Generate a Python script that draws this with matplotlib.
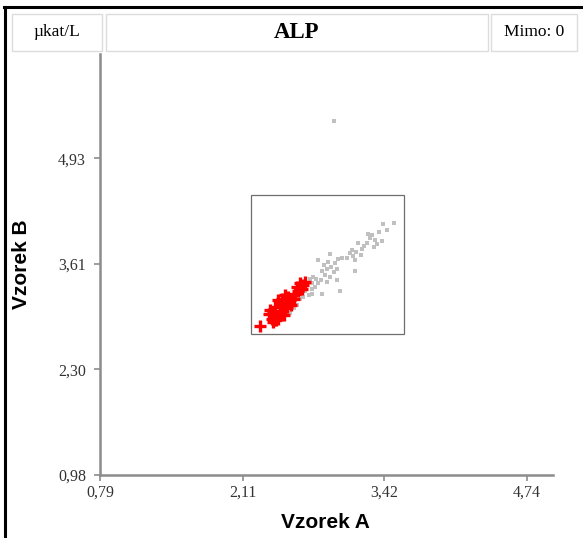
import matplotlib.pyplot as plt
from matplotlib.patches import Rectangle

# Axis ranges and ticks (values in µkat/L)
x_ticks = [0.79, 2.11, 3.42, 4.74]
x_tick_labels = ["0,79", "2,11", "3,42", "4,74"]
y_ticks = [0.98, 2.30, 3.61, 4.93]
y_tick_labels = ["0,98", "2,30", "3,61", "4,93"]
x_range = (0.79, 4.98)
y_range = (0.98, 6.23)

# Zoom window drawn in the middle
box_x = (2.19, 3.60)
box_y = (2.74, 4.47)

# Gray points (other labs)
gray_a = [3.51, 3.41, 3.37, 3.31, 3.33, 3.40, 3.29, 3.26, 3.32, 3.23, 3.18, 3.21,
          3.16, 3.12, 3.10, 3.13, 3.20, 3.15, 3.07, 3.03, 2.99, 2.96, 2.93, 2.90,
          2.92, 2.81, 2.84, 2.87, 2.83, 2.79, 2.76, 2.73, 2.75, 2.78, 2.81, 2.89,
          2.92, 2.98, 3.01, 2.84, 2.75, 2.72, 2.67, 2.64, 2.61, 2.58, 2.55, 2.41,
          2.98, 3.15, 2.89, 2.95, 2.86, 2.70, 2.75, 2.69, 3.35, 3.27, 3.44, 2.95]
gray_b = [4.12, 4.11, 4.01, 3.97, 3.91, 3.90, 3.93, 3.87, 3.82, 3.84, 3.87, 3.80,
          3.76, 3.78, 3.75, 3.71, 3.72, 3.66, 3.69, 3.68, 3.67, 3.62, 3.58, 3.64,
          3.74, 3.66, 3.53, 3.47, 3.41, 3.43, 3.45, 3.43, 3.37, 3.33, 3.37, 3.39,
          3.45, 3.41, 3.28, 3.24, 3.24, 3.22, 3.20, 3.18, 3.10, 3.06, 3.00, 2.85,
          3.55, 3.53, 3.55, 3.51, 3.60, 3.37, 3.30, 3.28, 3.86, 3.99, 4.03, 5.40]

# Red pluses (highlighted results)
red_a = [2.27, 2.35, 2.39, 2.41, 2.42, 2.39, 2.46, 2.47, 2.49, 2.46, 2.52, 2.55,
         2.58, 2.59, 2.62, 2.66, 2.67, 2.61, 2.69, 2.64, 2.44, 2.47, 2.50, 2.53,
         2.36, 2.38, 2.44, 2.52, 2.56, 2.41, 2.49]
red_b = [2.84, 2.99, 3.01, 2.95, 2.91, 2.89, 2.99, 3.03, 3.06, 3.10, 3.12, 3.16,
         3.18, 3.24, 3.28, 3.30, 3.35, 3.33, 3.39, 3.37, 3.16, 3.18, 3.22, 3.20,
         3.04, 2.93, 2.93, 3.08, 3.10, 3.08, 2.97]

serif = "Liberation Serif"
sans = "Liberation Sans"
axis_gray = "#8c8c8c"

fig = plt.figure(figsize=(5.83, 5.38), dpi=100)
W, H = 583, 538

ax = fig.add_axes([100 / W, 1 - 475 / H, 453 / W, 421 / H])
ax.scatter(gray_a, gray_b, s=6, marker="s", color="#c0c0c0", linewidths=0, zorder=2)
ax.plot(red_a, red_b, linestyle="none", marker="+", markersize=8, mew=2.4,
        color="#ff0000", zorder=3)
ax.add_patch(Rectangle((box_x[0], box_y[0]), box_x[1] - box_x[0], box_y[1] - box_y[0],
                       fill=False, edgecolor="#6e6e6e", linewidth=0.9, zorder=1))

ax.set_xlim(*x_range)
ax.set_ylim(*y_range)
ax.set_xticks(x_ticks)
ax.set_xticklabels(x_tick_labels)
ax.set_yticks(y_ticks)
ax.set_yticklabels(y_tick_labels)
for lab in ax.get_xticklabels() + ax.get_yticklabels():
    lab.set_fontfamily(serif)
    lab.set_fontsize(11.5)
    lab.set_color("#333333")
ax.tick_params(axis="both", direction="out", length=4, width=1.2, color=axis_gray)
ax.tick_params(axis="y", pad=6)
ax.tick_params(axis="x", pad=3)
for side in ("top", "right"):
    ax.spines[side].set_visible(False)
for side in ("left", "bottom"):
    ax.spines[side].set_color(axis_gray)
    ax.spines[side].set_linewidth(1.8)

fig.text(325 / W, 1 - 523 / H, "Vzorek A", ha="center", va="center",
         fontfamily=sans, fontweight="bold", fontsize=15)
fig.text(22 / W, 1 - 264 / H, "Vzorek B", ha="center", va="center", rotation=90,
         fontfamily=sans, fontweight="bold", fontsize=15)

# Header boxes
headers = [(12, 102, "µkat/L", "normal", 12.5),
           (106, 488, "ALP", "bold", 16.5),
           (491, 577, "Mimo: 0", "normal", 12.5)]
for x0, x1, txt, weight, size in headers:
    fig.patches.append(Rectangle((x0 / W, 1 - 51 / H), (x1 - x0) / W, 37 / H,
                                 transform=fig.transFigure, fill=False,
                                 edgecolor="#dcdcdc", linewidth=1))
    fig.text((x0 + x1) / 2 / W, 1 - 32 / H, txt, ha="center", va="center",
             fontfamily=serif, fontweight=weight, fontsize=size)

# Black frame lines (left and top)
fig.add_artist(plt.Line2D([5 / W, 5 / W], [0, 1 - 7 / H], color="black",
                          linewidth=2.2, transform=fig.transFigure))
fig.add_artist(plt.Line2D([4 / W, 1], [1 - 7 / H, 1 - 7 / H], color="black",
                          linewidth=2.2, transform=fig.transFigure))

fig.savefig("out.png", dpi=100)
